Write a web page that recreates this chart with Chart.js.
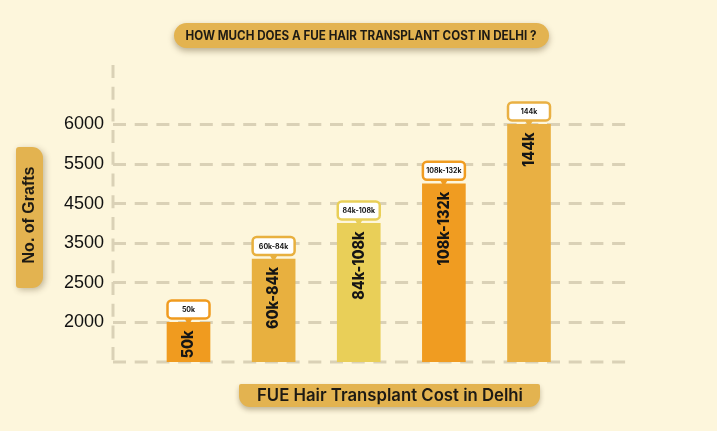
<!DOCTYPE html>
<html>
<head>
<meta charset="utf-8">
<script src="https://cdn.jsdelivr.net/npm/chart.js@4.4.1/dist/chart.umd.min.js"></script>
<style>
  html, body { margin: 0; padding: 0; background: #fdf6dc; }
  #wrap { width: 717px; height: 431px; position: relative; }
</style>
</head>
<body>
<div id="wrap"><canvas id="chart" width="717" height="431"></canvas></div>
<script>
'use strict';
/* *
 *
 *  Data
 *
 * */
var categories = ['50k', '60k-84k', '84k-108k', '108k-132k', '144k'];
var grafts = [2000, 3100, 4000, 5000, 6000];
var yTickLabels = [2000, 2500, 3500, 4500, 5500, 6000];
var barColors = ['#f09b1f', '#e8b03f', '#e9cf58', '#f09c21', '#e9b043'];

var chartTitle = 'HOW MUCH DOES A FUE HAIR TRANSPLANT COST IN DELHI ?';
var xTitle = 'FUE Hair Transplant Cost in Delhi';
var yTitle = 'No. of Grafts';

var GOLD = '#e3b350';
var GRID = '#dad1b6';
var DASH = [13, 8.7];

/* *
 *
 *  Scale with evenly spaced, uneven ticks
 *
 * */
// Breakpoints: axis base, then each tick label sits one step above the last
var breaks = [0].concat(yTickLabels);
function toStep(v) {
    if (v <= breaks[0]) {
        return 0;
    }
    for (var i = 1; i < breaks.length; i++) {
        if (v <= breaks[i]) {
            return i - 1 + (v - breaks[i - 1]) / (breaks[i] - breaks[i - 1]);
        }
    }
    var n = breaks.length - 1;
    return n + (v - breaks[n]) / (breaks[n] - breaks[n - 1]);
}
class GraftScale extends Chart.LinearScale {
    buildTicks() {
        return yTickLabels.map(function (v) { return { value: v }; });
    }
    getPixelForValue(value) {
        return value === null ? NaN : super.getPixelForValue(toStep(value));
    }
}
GraftScale.id = 'graft';
GraftScale.defaults = Chart.LinearScale.defaults;
Chart.register(GraftScale);

/* *
 *
 *  Drawing helpers
 *
 * */
function fitText(ctx, text, x, y, width) {
    var w = ctx.measureText(text).width;
    var k = width / w;
    ctx.save();
    ctx.translate(x, y);
    ctx.scale(k, 1);
    ctx.textAlign = 'center';
    ctx.fillText(text, 0, 0);
    ctx.restore();
}

function dashedLine(ctx, x1, y1, x2, y2) {
    ctx.save();
    ctx.strokeStyle = GRID;
    ctx.lineWidth = 3;
    ctx.setLineDash(DASH);
    ctx.beginPath();
    ctx.moveTo(x1, y1);
    ctx.lineTo(x2, y2);
    ctx.stroke();
    ctx.restore();
}

var decorPlugin = {
    id: 'decor',
    beforeDraw: function (chart) {
        var ctx = chart.ctx;
        ctx.save();
        ctx.fillStyle = '#fdf6dc';
        ctx.fillRect(0, 0, chart.width, chart.height);
        ctx.restore();
    },
    beforeDatasetsDraw: function (chart) {
        // dashed axis lines
        var a = chart.chartArea;
        dashedLine(chart.ctx, a.left, a.top, a.left, a.bottom);
        dashedLine(chart.ctx, a.left, a.bottom, a.right, a.bottom);
    },
    afterDatasetsDraw: function (chart) {
        var ctx = chart.ctx;
        var meta = chart.getDatasetMeta(0);
        meta.data.forEach(function (bar, i) {
            var top = bar.y;
            // label written up the bar
            ctx.save();
            ctx.translate(bar.x, top + 8);
            ctx.rotate(-Math.PI / 2);
            ctx.scale(0.9, 1);
            ctx.font = '800 16px Inter, "DejaVu Sans", sans-serif';
            ctx.fillStyle = '#151515';
            ctx.textAlign = 'right';
            ctx.textBaseline = 'middle';
            ctx.fillText(categories[i], 0, 0);
            ctx.restore();

            // callout box above the bar
            var bw = bar.width - 1, bh = 18;
            var bx = bar.x - bw / 2, by = top - 4 - bh;
            ctx.save();
            ctx.fillStyle = barColors[i];
            ctx.beginPath();
            ctx.moveTo(bar.x - 4, by + bh);
            ctx.lineTo(bar.x + 4, by + bh);
            ctx.lineTo(bar.x, top + 3);
            ctx.closePath();
            ctx.fill();
            ctx.beginPath();
            ctx.roundRect(bx, by, bw, bh, 4);
            ctx.fillStyle = '#ffffff';
            ctx.fill();
            ctx.lineWidth = 2.5;
            ctx.strokeStyle = barColors[i];
            ctx.stroke();
            ctx.font = '700 7px Inter, "DejaVu Sans", sans-serif';
            ctx.fillStyle = '#151515';
            ctx.textAlign = 'center';
            ctx.textBaseline = 'middle';
            ctx.fillText(categories[i], bar.x, by + bh / 2 + 0.5);
            ctx.restore();
        });
    },
    afterDraw: function (chart) {
        var ctx = chart.ctx;

        // title pill
        ctx.save();
        ctx.shadowColor = 'rgba(60,40,0,0.35)';
        ctx.shadowBlur = 6;
        ctx.shadowOffsetY = 3;
        ctx.fillStyle = GOLD;
        ctx.beginPath();
        ctx.roundRect(174, 23, 375, 25, 12.5);
        ctx.fill();
        ctx.restore();
        ctx.save();
        ctx.fillStyle = '#1d1a14';
        ctx.font = '700 12.5px Inter, "DejaVu Sans", sans-serif';
        ctx.textBaseline = 'middle';
        fitText(ctx, chartTitle, 361, 36, 351);
        ctx.restore();

        // y axis title tab
        ctx.save();
        ctx.shadowColor = 'rgba(60,40,0,0.3)';
        ctx.shadowBlur = 6;
        ctx.shadowOffsetX = 2;
        ctx.shadowOffsetY = 2;
        ctx.fillStyle = GOLD;
        ctx.beginPath();
        ctx.roundRect(16, 147, 27, 141, [3, 11, 11, 3]);
        ctx.fill();
        ctx.restore();
        ctx.save();
        ctx.translate(30, 215);
        ctx.rotate(-Math.PI / 2);
        ctx.fillStyle = '#1d1a14';
        ctx.font = '700 16px "Liberation Sans", Arial, sans-serif';
        ctx.textAlign = 'center';
        ctx.textBaseline = 'middle';
        ctx.fillText(yTitle, 0, 0);
        ctx.restore();

        // x axis title pill
        ctx.save();
        ctx.shadowColor = 'rgba(60,40,0,0.3)';
        ctx.shadowBlur = 5;
        ctx.shadowOffsetY = 3;
        ctx.fillStyle = GOLD;
        ctx.beginPath();
        ctx.roundRect(239, 384, 301, 23, [2, 2, 11, 11]);
        ctx.fill();
        ctx.restore();
        ctx.save();
        ctx.fillStyle = '#1d1a14';
        ctx.font = '600 17px Inter, "DejaVu Sans", sans-serif';
        ctx.textBaseline = 'middle';
        fitText(ctx, xTitle, 390, 396, 266);
        ctx.restore();
    }
};

/* *
 *
 *  Chart
 *
 * */
new Chart(document.getElementById('chart'), {
    type: 'bar',
    data: {
        datasets: [{
            data: categories.map(function (c, i) { return { x: i, y: grafts[i] }; }),
            backgroundColor: barColors,
            borderWidth: 0,
            barThickness: 43
        }]
    },
    options: {
        responsive: false,
        animation: false,
        events: [],
        layout: { padding: { left: 0, top: 65, right: 85, bottom: 69 } },
        plugins: {
            legend: { display: false },
            tooltip: { enabled: false }
        },
        scales: {
            x: {
                type: 'linear',
                offset: false,
                min: -0.887,
                max: 5.21,
                ticks: { display: false },
                grid: { display: false },
                border: { display: false },
                afterFit: function (s) { s.height = 0; }
            },
            y: {
                type: 'graft',
                min: 0,
                max: 7.5,
                ticks: {
                    autoSkip: false,
                    padding: 9,
                    color: '#111111',
                    font: { family: '"Liberation Sans", Arial, sans-serif', size: 18 },
                    callback: function (v) { return String(v); }
                },
                grid: { color: GRID, lineWidth: 3, drawTicks: false },
                border: { display: false, dash: DASH },
                afterFit: function (s) { s.width = 113; }
            }
        }
    },
    plugins: [decorPlugin]
});
</script>
</body>
</html>
